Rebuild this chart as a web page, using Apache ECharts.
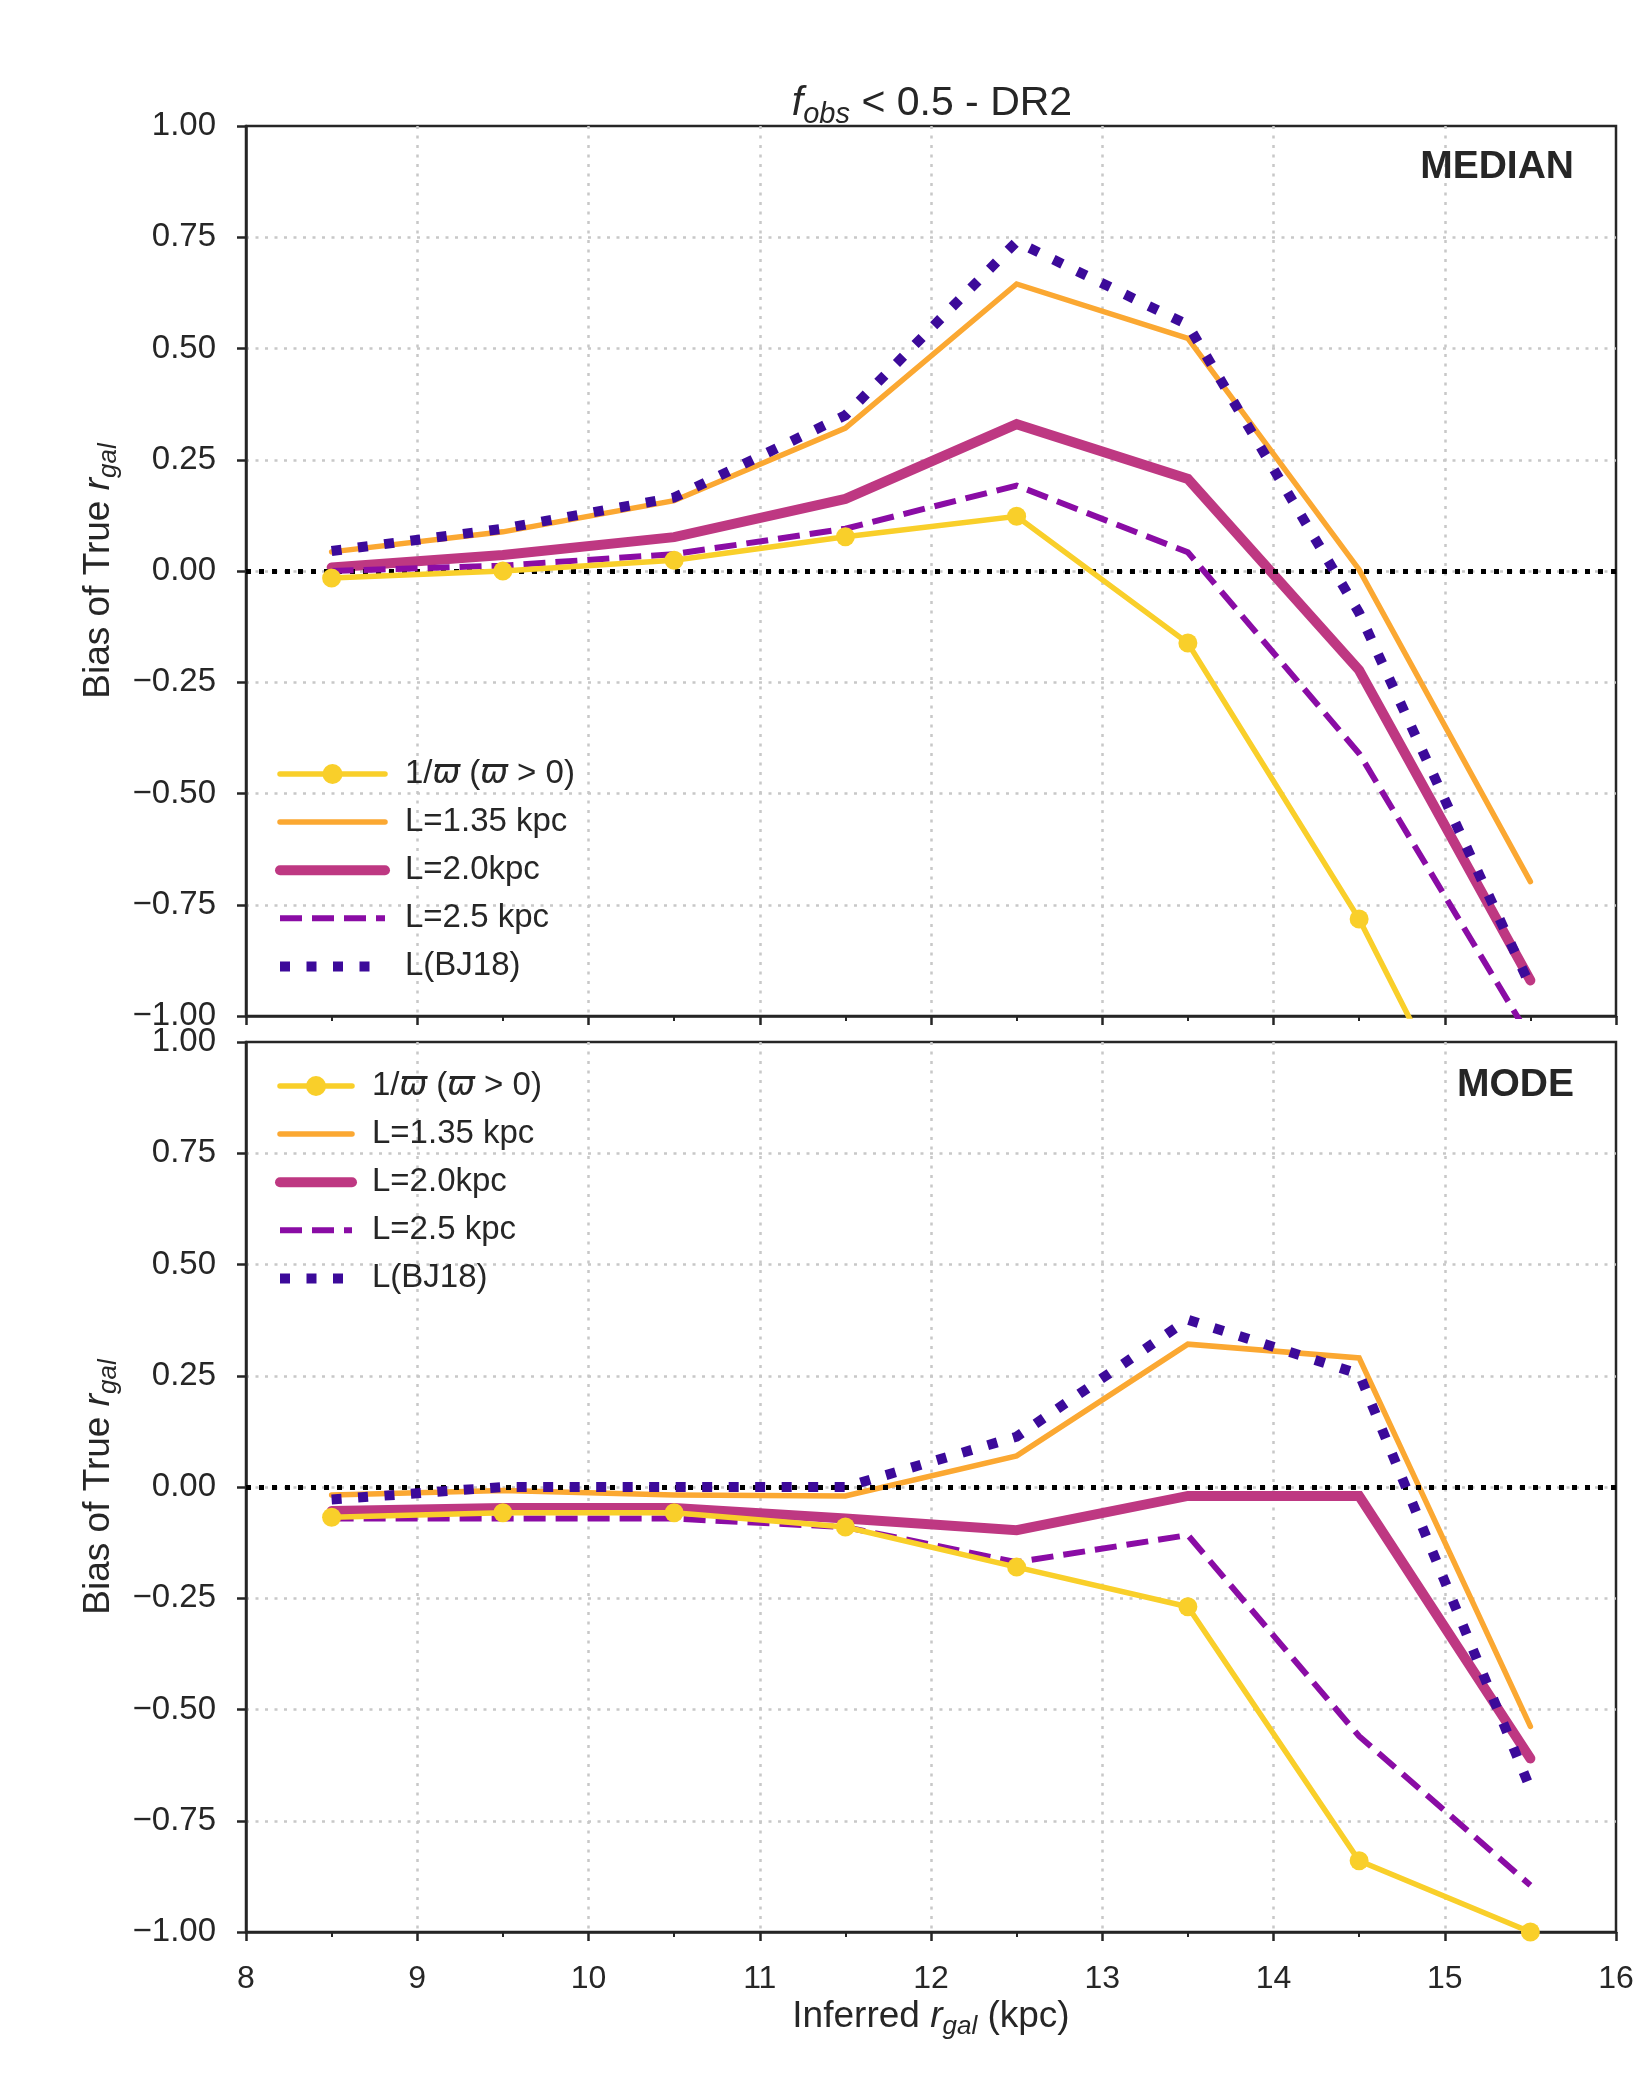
<!DOCTYPE html>
<html>
<head>
<meta charset="utf-8">
<script src="https://cdn.jsdelivr.net/npm/echarts@6/dist/echarts.min.js"></script>
<style>
  html, body { margin: 0; padding: 0; background: #fff; }
  #chart { width: 1650px; height: 2100px; }
</style>
</head>
<body>
<div id="chart"></div>
<script>
// inferred r_gal (kpc), bin centres
var rGal = [8.5, 9.5, 10.5, 11.5, 12.5, 13.5, 14.5, 15.5];

// MEDIAN panel
var medInvPar = [-0.016, 0.0, 0.024, 0.077, 0.123, -0.162, -0.782, -1.54];
var medL135   = [0.043, 0.088, 0.158, 0.321, 0.645, 0.523, 0.003, -0.698];
var medL20    = [0.008, 0.036, 0.076, 0.162, 0.33, 0.207, -0.223, -0.92];
var medL25    = [0.0, 0.012, 0.038, 0.095, 0.192, 0.042, -0.41, -1.05];
var medBJ18   = [0.045, 0.095, 0.165, 0.35, 0.74, 0.553, -0.094, -0.933];

// MODE panel
var modInvPar = [-0.068, -0.058, -0.058, -0.09, -0.18, -0.269, -0.84, -1.0];
var modL135   = [-0.018, -0.008, -0.018, -0.02, 0.07, 0.321, 0.29, -0.538];
var modL20    = [-0.054, -0.047, -0.047, -0.071, -0.097, -0.02, -0.02, -0.61];
var modL25    = [-0.071, -0.071, -0.071, -0.09, -0.169, -0.108, -0.56, -0.895];
var modBJ18   = [-0.028, 0.0, 0.0, 0.0, 0.113, 0.376, 0.254, -0.678];

var names = ['1/ϖ (ϖ > 0)', 'L=1.35 kpc', 'L=2.0kpc', 'L=2.5 kpc', 'L(BJ18)'];
var panelTags = ['MEDIAN', 'MODE'];

var FONT = "'Liberation Sans', Arial, 'DejaVu Sans', sans-serif";
var INK = '#262626';
var GRID_COLOR = '#c8c8c8';

// style per curve: colour, width, dash, symbol, z
var styles = [
    { color: '#f9cf2a', width: 5.5, type: 'solid', cap: 'round', symbol: 'circle', z: 7 },
    { color: '#fba832', width: 5.5, type: 'solid', cap: 'round', symbol: 'none', z: 3 },
    { color: '#be3882', width: 10, type: 'solid', cap: 'round', symbol: 'none', z: 4 },
    { color: '#8a0ca5', width: 6, type: [22, 10], cap: 'butt', symbol: 'none', z: 5 },
    { color: '#3c0a9a', width: 10, type: [10, 16.5], cap: 'butt', symbol: 'none', z: 6 }
];

function toPairs(vals) {
    return rGal.map(function (x, i) { return [x, vals[i]]; });
}

function buildSeries(grid, sets) {
    var out = [];
    // dotted zero reference line
    out.push({
        type: 'line', xAxisIndex: grid, yAxisIndex: grid, data: [], z: 2,
        markLine: {
            silent: true, symbol: 'none', label: { show: false },
            lineStyle: { color: '#000', width: 5, type: [5, 8], cap: 'butt' },
            data: [{ yAxis: 0 }]
        }
    });
    sets.forEach(function (vals, k) {
        var s = styles[k];
        out.push({
            name: names[k],
            type: 'line',
            xAxisIndex: grid, yAxisIndex: grid,
            data: toPairs(vals),
            z: s.z,
            symbol: s.symbol,
            symbolSize: 19,
            showSymbol: s.symbol !== 'none',
            clip: true,
            itemStyle: { color: s.color },
            lineStyle: { color: s.color, width: s.width, type: s.type, cap: s.cap, join: 'miter' },
            emphasis: { disabled: true }
        });
    });
    return out;
}

function tickFmt(v) {
    var t = Math.abs(v).toFixed(2);
    return v < -1e-9 ? '\u2212' + t : t;
}

var nameRich = {
    n: { fontSize: 37, fontFamily: FONT, color: INK, lineHeight: 46 },
    i: { fontSize: 37, fontFamily: FONT, fontStyle: 'italic', color: INK, lineHeight: 46 },
    s: { fontSize: 26, fontFamily: FONT, fontStyle: 'italic', color: INK, lineHeight: 27, verticalAlign: 'bottom' }
};

var gridLine = { show: true, showMinLine: false, showMaxLine: false,
    lineStyle: { color: GRID_COLOR, width: 2.5, type: [3, 6.5] } };

function makeX(grid) {
    return {
        type: 'value', gridIndex: grid, min: 8, max: 16, interval: 1,
        axisLine: { show: true, onZero: false, lineStyle: { color: INK, width: 2.5 } },
        axisTick: { show: true, inside: false, length: 9, lineStyle: { color: INK, width: 2.5 } },
        minorTick: { show: true, splitNumber: 2, length: 5, lineStyle: { color: INK, width: 2 } },
        splitLine: gridLine,
        axisLabel: { show: grid === 1, fontSize: 32, fontFamily: FONT, color: INK, margin: 31 },
        name: grid === 1 ? '{n|Inferred }{i|r}{s|gal}{n| (kpc)}' : '',
        nameLocation: 'middle', nameGap: 62,
        nameTextStyle: { rich: nameRich }
    };
}

function makeY(grid) {
    return {
        type: 'value', gridIndex: grid, min: -1, max: 1, interval: 0.25,
        axisLine: { show: true, onZero: false, lineStyle: { color: INK, width: 2.5 } },
        axisTick: { show: true, inside: false, length: 9, lineStyle: { color: INK, width: 2.5 } },
        splitLine: gridLine,
        axisLabel: { fontSize: 33, fontFamily: FONT, color: INK, margin: 30, formatter: tickFmt },
        name: '{n|Bias of True }{i|r}{s|gal}',
        nameLocation: 'middle', nameGap: 124,
        nameTextStyle: { rich: nameRich }
    };
}

function makeLegend(grid, top, iconWidth) {
    return {
        orient: 'vertical', left: 275, top: top, padding: 0,
        data: names.map(function (n, k) {
            // only the 1/parallax curve carries a marker
            return k === 0 ? { name: n } : { name: n, itemStyle: { opacity: 0 } };
        }),
        selectedMode: false,
        itemWidth: iconWidth, itemHeight: 25, itemGap: 12.1,
        lineStyle: { width: 'inherit', type: 'inherit', cap: 'inherit' },
        textStyle: {
            fontSize: 33, fontFamily: FONT, color: INK, lineHeight: 36, padding: [0, 0, 0, 15],
            rich: {
                n: { fontSize: 33, fontFamily: FONT, color: INK },
                i: { fontSize: 33, fontFamily: "'DejaVu Sans', sans-serif", fontStyle: 'italic', color: INK }
            }
        },
        formatter: function (n) {
            if (n === names[0]) return '{n|1/}{i|ϖ}{n| (}{i|ϖ}{n| > 0)}';
            return n;
        }
    };
}

var chart = echarts.init(document.getElementById('chart'), null, { renderer: 'canvas' });

var option = {
    animation: false,
    backgroundColor: '#fff',
    grid: [
        { left: 246, top: 126, width: 1370, height: 890, show: true, borderColor: INK, borderWidth: 2.5, backgroundColor: 'transparent' },
        { left: 246, top: 1042, width: 1370, height: 890, show: true, borderColor: INK, borderWidth: 2.5, backgroundColor: 'transparent' }
    ],
    xAxis: [makeX(0), makeX(1)],
    yAxis: [makeY(0), makeY(1)],
    legend: [makeLegend(0, 756, 105), makeLegend(1, 1068, 72)],
    series: buildSeries(0, [medInvPar, medL135, medL20, medL25, medBJ18])
        .concat(buildSeries(1, [modInvPar, modL135, modL20, modL25, modBJ18])),
    graphic: [
        {
            type: 'text', x: 932, y: 104, z: 10,
            style: {
                text: '{i|f}{s|obs}{n| < 0.5 - DR2}',
                align: 'center', verticalAlign: 'middle',
                rich: {
                    n: { fontSize: 41, fontFamily: FONT, fill: INK, lineHeight: 50 },
                    i: { fontSize: 41, fontFamily: FONT, fontStyle: 'italic', fill: INK, lineHeight: 50 },
                    s: { fontSize: 29, fontFamily: FONT, fontStyle: 'italic', fill: INK, lineHeight: 30, verticalAlign: 'bottom' }
                }
            }
        },
        {
            type: 'text', x: 1574, y: 167, z: 10,
            style: { text: panelTags[0], align: 'right', verticalAlign: 'middle', font: 'bold 39px ' + FONT, fill: INK }
        },
        {
            type: 'text', x: 1574, y: 1085, z: 10,
            style: { text: panelTags[1], align: 'right', verticalAlign: 'middle', font: 'bold 39px ' + FONT, fill: INK }
        }
    ]
};

chart.setOption(option);
</script>
</body>
</html>
